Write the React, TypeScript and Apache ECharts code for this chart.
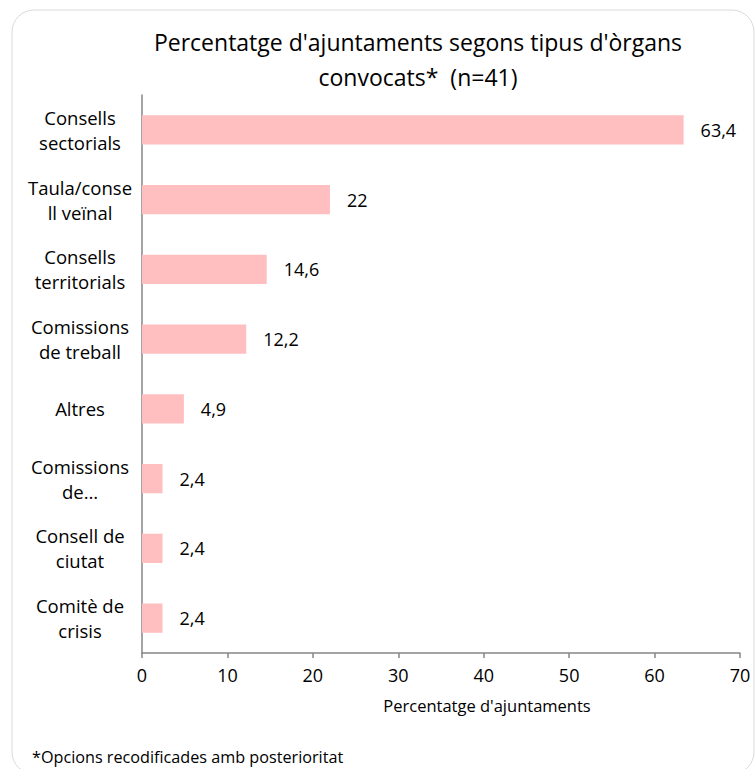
import React, { useEffect, useRef } from "react";
import * as echarts from "echarts";

const categories = [
  "Consells\nsectorials",
  "Taula/conse\nll veïnal",
  "Consells\nterritorials",
  "Comissions\nde treball",
  "Altres",
  "Comissions\nde…",
  "Consell de\nciutat",
  "Comitè de\ncrisis",
];
const values = [63.4, 22, 14.6, 12.2, 4.9, 2.4, 2.4, 2.4];
const xTicks = [0, 10, 20, 30, 40, 50, 60, 70];
const titleText = "Percentatge d'ajuntaments segons tipus d'òrgans\nconvocats*  (n=41)";
const xAxisName = "Percentatge d'ajuntaments";
const footnote = "*Opcions recodificades amb posterioritat";

const FONT = "'Open Sans', sans-serif";

export default function App() {
  const ref = useRef<HTMLDivElement>(null);
  useEffect(() => {
    if (!ref.current) return;
    const chart = echarts.init(ref.current, undefined, { renderer: "svg" });
    chart.setOption({
      animation: false,
      backgroundColor: "#ffffff",
      textStyle: { fontFamily: FONT },
      title: {
        text: titleText,
        left: 413,
        top: 19,
        textAlign: "center",
        textStyle: { fontFamily: FONT, fontSize: 23, fontWeight: "normal", color: "#000", lineHeight: 35 },
      },
      graphic: [
        {
          type: "rect",
          shape: { x: 12, y: 10, width: 742, height: 764, r: 22 },
          style: { fill: "none", stroke: "#d9d9d9", lineWidth: 1 },
          silent: true,
        },
        {
          type: "text",
          x: 32,
          y: 757,
          style: { text: footnote, font: `16.2px ${FONT}`, fill: "#000", verticalAlign: "middle" },
        },
      ],
      grid: { left: 142, right: 15, top: 95, bottom: 116 },
      xAxis: {
        type: "value",
        min: xTicks[0],
        max: xTicks[xTicks.length - 1],
        interval: 10,
        name: xAxisName,
        nameLocation: "middle",
        nameGap: 44,
        nameTextStyle: { fontFamily: FONT, fontSize: 16.5, color: "#000", padding: [0, 0, 0, 92] },
        axisLine: { show: true, lineStyle: { color: "#868686", width: 1.5 } },
        axisTick: { show: true, length: 5, lineStyle: { color: "#868686", width: 1.5 } },
        axisLabel: { fontFamily: FONT, fontSize: 18, color: "#000", margin: 13 },
        splitLine: { show: false },
      },
      yAxis: {
        type: "category",
        data: categories,
        inverse: true,
        axisLine: { show: true, lineStyle: { color: "#868686", width: 1.5 } },
        axisTick: { show: false },
        axisLabel: {
          fontFamily: FONT,
          fontSize: 18.5,
          color: "#000",
          align: "center",
          margin: 62,
          lineHeight: 25,
          interval: 0,
        },
      },
      series: [
        {
          type: "bar",
          data: values,
          barWidth: "42%",
          itemStyle: { color: "#FFBEC0" },
          label: {
            show: true,
            position: "right",
            distance: 17,
            fontFamily: FONT,
            fontSize: 18,
            color: "#000",
            formatter: (p: any) => String(p.value).replace(".", ","),
          },
        },
      ],
    });
    return () => chart.dispose();
  }, []);
  return <div ref={ref} style={{ position: "fixed", left: 0, top: 0, width: 755, height: 769 }} />;
}
